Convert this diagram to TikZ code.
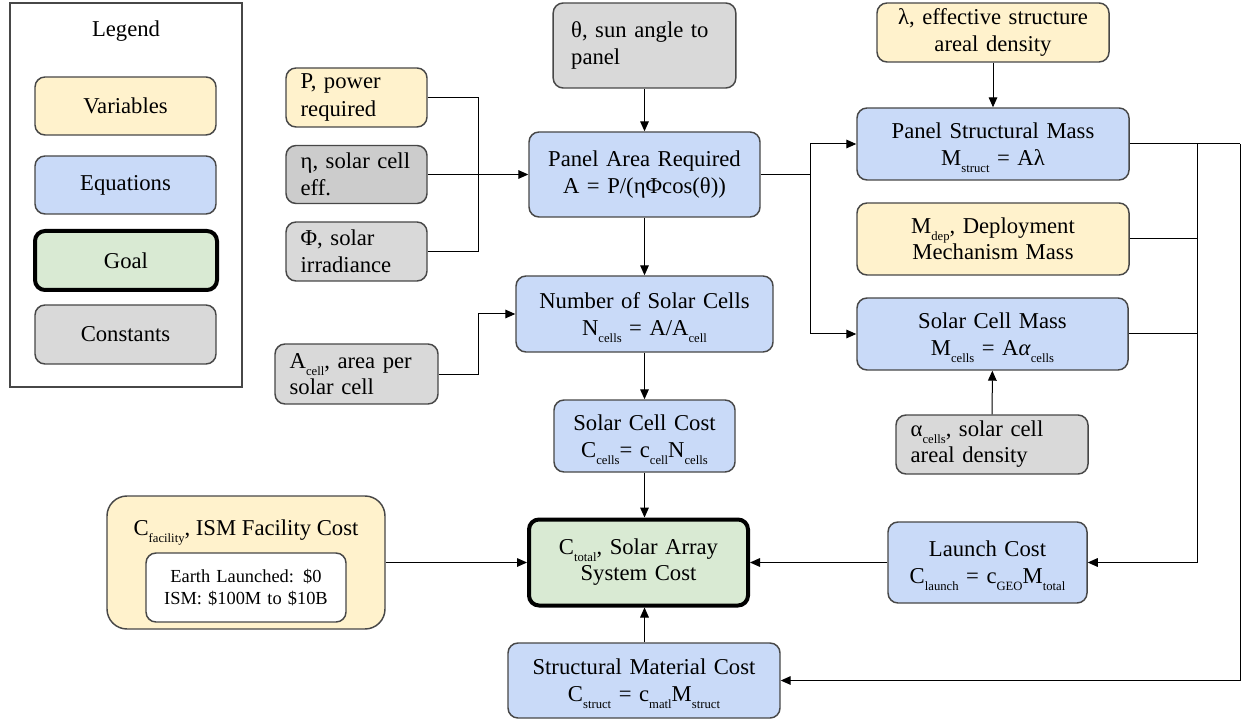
\documentclass[tikz,border=0pt]{standalone}
\usepackage{fontspec}
\setmainfont{Liberation Serif}
\usetikzlibrary{arrows.meta}

\definecolor{varfill}{HTML}{FFF2CC}
\definecolor{eqnfill}{HTML}{C9DAF8}
\definecolor{goalfill}{HTML}{D9EAD3}
\definecolor{constfill}{HTML}{D9D9D9}
\definecolor{constdark}{HTML}{CCCCCC}
\definecolor{edgegray}{HTML}{474747}

% lowered small subscript, as the drawing tool sets it
\newcommand{\lsub}[1]{\raisebox{-5pt}[0pt][0pt]{\fontsize{9.5}{10}\selectfont #1}}

\tikzset{every picture/.style={line width=0.75pt}}
\tikzset{
  blk/.style={draw=edgegray, line width=1.1pt, rounded corners=7.5pt, inner ysep=0pt,
    font=\fontsize{17}{20.5}\selectfont},
  lbox/.style 2 args={blk, text width=#1*0.75pt-22pt, inner xsep=11pt,
    minimum height=#2*0.75pt, align=left},
  cbox/.style 2 args={blk, text width=#1*0.75pt-22pt, inner xsep=11pt,
    minimum height=#2*0.75pt, align=center},
  varnode/.style={fill=varfill},
  eqnnode/.style={fill=eqnfill},
  goalnode/.style={fill=goalfill, draw=black, line width=3pt},
  constnode/.style={fill=constfill},
  link/.style={draw=black, -{Triangle[length=7.5pt,width=6.5pt]}},
  wire/.style={draw=black},
}

\begin{document}
\begin{tikzpicture}[x=0.75pt,y=0.75pt,yscale=-1,xscale=1]
\useasboundingbox (0,0) rectangle (1241,723);

% Legend
\draw [draw=edgegray, line width=0.9pt] (10,3) rectangle (242,387);
\node [font=\fontsize{17}{20}\selectfont] (legendtitle) at (126,31) {Legend};
\node [cbox={181}{58}, varnode] (legvar) at (125.5,106) {Variables};
\node [cbox={181}{58}, eqnnode] (legeqn) at (125.5,185) {Equations};
\node [cbox={182}{59}, goalnode] (leggoal) at (126,260.5) {Goal};
\node [cbox={181}{59}, constnode] (legconst) at (125.5,334.5) {Constants};

% Inputs to panel area
\node [lbox={141}{59}, varnode] (power) at (356.5,97.5) {P, power\\required};
\node [lbox={141}{58}, fill=constdark] (eff) at (356.5,174.5) {η, solar cell\\eff.};
\node [lbox={141}{59}, constnode] (irr) at (356.5,251.5) {Φ, solar\\irradiance};
\node [lbox={183}{85}, constnode, inner xsep=13.5pt, text width=110pt] (theta) at (644.5,45.5) {θ, sun angle to\\panel};

% Equation chain
\node [cbox={231}{85}, eqnnode] (area) at (644.5,174.5) {Panel Area Required\\A = P/(ηΦcos(θ))};
\node [cbox={257}{76}, eqnnode] (ncells) at (644.5,314) {Number of Solar Cells\\N\lsub{cells} = A/A\lsub{cell}};
\node [lbox={163}{60}, constnode] (acell) at (356.5,374) {A\lsub{cell}, area per\\[-1pt]solar cell};
\node [cbox={181}{72}, eqnnode] (ccost) at (644.5,436) {Solar Cell Cost\\C\lsub{cells}= c\lsub{cell}N\lsub{cells}};
\node [cbox={219}{86}, goalnode] (total) at (638.5,562.5) {C\lsub{total}, Solar Array\\[-1pt]System Cost};
\node [cbox={272}{75}, eqnnode] (smcost) at (644,680.5) {Structural Material Cost\\C\lsub{struct} = c\lsub{matl}M\lsub{struct}};

% Facility cost
\node [cbox={278}{133}, varnode, rounded corners=15pt] (facility) at (246,562.5) {};
\node [font=\fontsize{17}{20}\selectfont] (factitle) at (246,530) {C\lsub{facility}, ISM Facility Cost};
\node [cbox={200}{69}, fill=white, font=\fontsize{13.8}{17}\selectfont] (facrange) at (246,587.5) {Earth Launched: \$0\\ISM: \$100M to \$10B};

% Mass side
\node [cbox={232}{59}, varnode] (lambda) at (993,32.5) {λ, effective structure\\areal density};
\node [cbox={272}{72}, eqnnode] (psmass) at (993,144) {Panel Structural Mass\\M\lsub{struct} = Aλ};
\node [cbox={272}{72}, varnode] (mdep) at (993,239) {M\lsub{dep}, Deployment\\[-1pt]Mechanism Mass};
\node [cbox={271}{72}, eqnnode] (scmass) at (992.5,334) {Solar Cell Mass\\M\lsub{cells} = A\textit{α}\lsub{cells}};
\node [lbox={192}{59}, constnode] (alpha) at (992,444.5) {α\lsub{cells}, solar cell\\[-1pt]areal density};
\node [cbox={199}{81}, eqnnode] (launch) at (987.5,562.5) {Launch Cost\\C\lsub{launch} = c\lsub{GEO}M\lsub{total}};

% Junction points
\coordinate (inj) at (478,174.5);
\coordinate (outj) at (810,174.5);
\coordinate (bus) at (1197,144);
\coordinate (farbus) at (1240,144);

%Straight Lines
\draw [wire] (power.east) -| (inj);
\draw [wire] (irr.east) -| (inj);
\draw [link] (eff.east) -- (area.west);
\draw [link] (theta) -- (area);
\draw [link] (area) -- (ncells);
\draw [link] (acell.east) -- (acell.east -| inj) |- (ncells.west);
\draw [link] (ncells) -- (ccost);
\draw [link] (ccost.south) -- (ccost.south |- total.north);
\draw [link] (smcost.north -| ccost) -- (ccost |- total.south);
\draw [link] (facility.east) -- (total.west);
\draw [link] (launch.west) -- (total.east);

\draw [wire] (area.east) -- (outj);
\draw [link] (outj) |- (psmass.west);
\draw [link] (outj) |- (scmass.west);
\draw [link] (lambda) -- (psmass);
\draw [link] (alpha) -- (scmass);

\draw [wire] (psmass.east) -- (farbus);
\draw [link] (bus) |- (launch.east);
\draw [link] (farbus) |- (smcost.east);
\draw [wire] (mdep.east) -- (mdep.east -| bus);
\draw [wire] (scmass.east) -- (scmass.east -| bus);

\end{tikzpicture}
\end{document}
